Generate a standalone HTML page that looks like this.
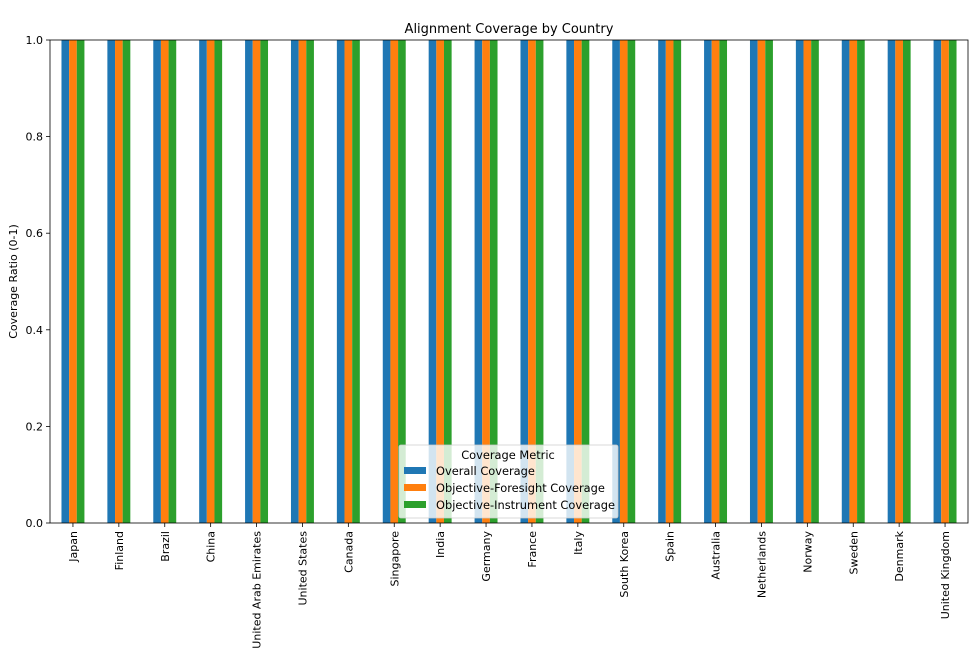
<!DOCTYPE html>
<html><head><meta charset="utf-8"><style>
body{margin:0;background:#fff}
svg text{font-family:"DejaVu Sans","Liberation Sans",sans-serif;fill:#000}
</style></head><body>
<svg id="chart" width="972" height="654" xmlns="http://www.w3.org/2000/svg"></svg>
<script>
const categories=["Japan","Finland","Brazil","China","United Arab Emirates","United States","Canada","Singapore","India","Germany","France","Italy","South Korea","Spain","Australia","Netherlands","Norway","Sweden","Denmark","United Kingdom"];
const overall=[1,1,1,1,1,1,1,1,1,1,1,1,1,1,1,1,1,1,1,1];
const foresight=[1,1,1,1,1,1,1,1,1,1,1,1,1,1,1,1,1,1,1,1];
const instrument=[1,1,1,1,1,1,1,1,1,1,1,1,1,1,1,1,1,1,1,1];
const yTicks=[0,0.2,0.4,0.6,0.8,1.0];
const seriesNames=["Overall Coverage","Objective-Foresight Coverage","Objective-Instrument Coverage"];
const colors=["#1f77b4","#ff7f0e","#2ca02c"];
const L=50,R=968,T=40,B=523;
const svg=document.getElementById('chart');
const NS="http://www.w3.org/2000/svg";
function mk(tag,attrs,parent){const e=document.createElementNS(NS,tag);for(const k in attrs)e.setAttribute(k,attrs[k]);(parent||svg).appendChild(e);return e;}
const step=(R-L)/categories.length;
const xC=i=>L+step*(i+0.5);
const y=v=>B-(B-T)*v;
const bw=step*0.5/3;
[overall,foresight,instrument].forEach((s,si)=>{
  s.forEach((v,i)=>{
    const r=mk('rect',{x:xC(i)-step*0.25+si*bw,y:y(v),width:bw,height:y(0)-y(v),fill:colors[si]});
    
    
  });
});
const ax=mk('rect',{x:L,y:T,width:R-L,height:B-T,fill:'none',stroke:'#000','stroke-width':0.8});


yTicks.forEach(t=>{
  mk('line',{x1:L-4,x2:L,y1:y(t),y2:y(t),stroke:'#000','stroke-width':0.8});
  const tx=mk('text',{x:L-7,y:y(t)+4,'text-anchor':'end','font-size':11});
  tx.textContent=t.toFixed(1);
  
  
});
categories.forEach((c,i)=>{
  mk('line',{x1:xC(i),x2:xC(i),y1:B,y2:B+4,stroke:'#000','stroke-width':0.8});
  const tx=mk('text',{transform:`translate(${xC(i)+4},${B+8}) rotate(-90)`,'text-anchor':'end','font-size':11});
  tx.textContent=c;
  
  
});
const yt=mk('text',{transform:`translate(17,${(T+B)/2}) rotate(-90)`,'text-anchor':'middle','font-size':11});
yt.textContent="Coverage Ratio (0-1)";


const ti=mk('text',{x:(L+R)/2,y:33,'text-anchor':'middle','font-size':13});
ti.textContent="Alignment Coverage by Country";


const lg=mk('g',{});


mk('rect',{x:399,y:445,width:219,height:73,rx:2,fill:'#fff','fill-opacity':0.8,stroke:'#ccc','stroke-width':0.8},lg);
const lt=mk('text',{x:508,y:459,'text-anchor':'middle','font-size':11.4},lg);
lt.textContent="Coverage Metric";
seriesNames.forEach((n,i)=>{
  const yy=471+i*17;
  mk('rect',{x:404,y:yy-4,width:22,height:7,fill:colors[i]},lg);
  const t=mk('text',{x:436,y:yy+4,'font-size':11.4},lg);
  t.textContent=n;
  
  
});
</script>
</body></html>
